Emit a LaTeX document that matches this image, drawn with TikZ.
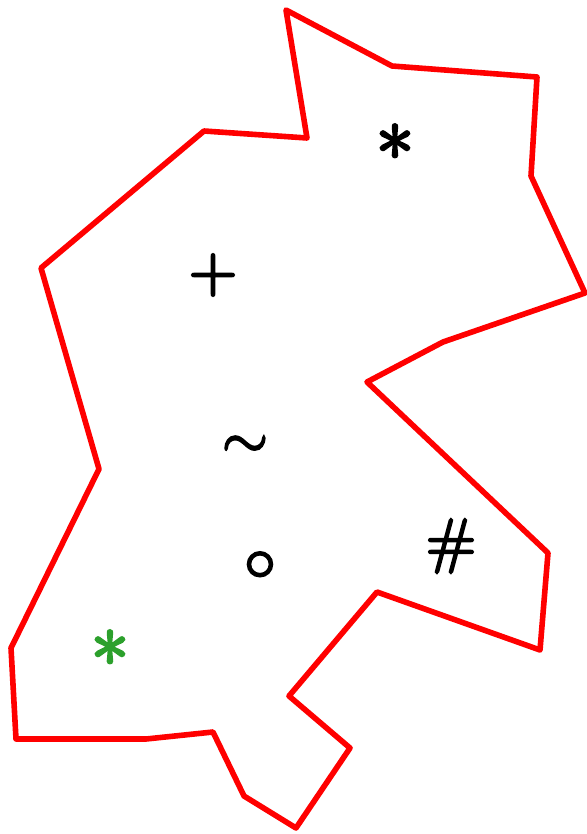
\documentclass[tikz,border=0pt]{standalone}
\usepackage{graphicx}
\definecolor{mplgreen}{RGB}{44,160,44}
\newcommand{\thicksym}[2]{\scalebox{#1}{\special{pdf:literal 2 Tr 0.33 w}$#2$\special{pdf:literal 0 Tr}}}
\tikzset{
  outline/.style={draw=red, line width=5.6pt, line join=round},
  sym/.style={inner sep=0pt}
}
\begin{document}
\begin{tikzpicture}[x=1pt,y=-1pt]
\useasboundingbox (0,0) rectangle (586,834);
\draw[outline] (286,10) -- (392,66) -- (537,77) -- (531,176) -- (585,293) -- (443,342) -- (367,382) -- (548,553) -- (540,650) -- (377,592) -- (289,696) -- (350,748) -- (296,828) -- (244,796) -- (213,732) -- (146,739) -- (16,739) -- (11,648) -- (99,469) -- (41,268) -- (204,131) -- (307,138) -- cycle;
\node[sym] (ast) at (395,142) {\thicksym{7.6}{\ast}};
\node[sym] (plus) at (213,275) {\thicksym{6.3}{+}};
\node[sym] (tilde) at (245,447) {\thicksym{5.9}{\sim}};
\node[sym] (circ) at (260,566) {\thicksym{6.3}{\circ}};
\node[sym] (hash) at (451,546) {\thicksym{6.1}{\#}};
\node[sym, text=mplgreen] (gast) at (110,648) {\thicksym{7.6}{\ast}};
\end{tikzpicture}
\end{document}
